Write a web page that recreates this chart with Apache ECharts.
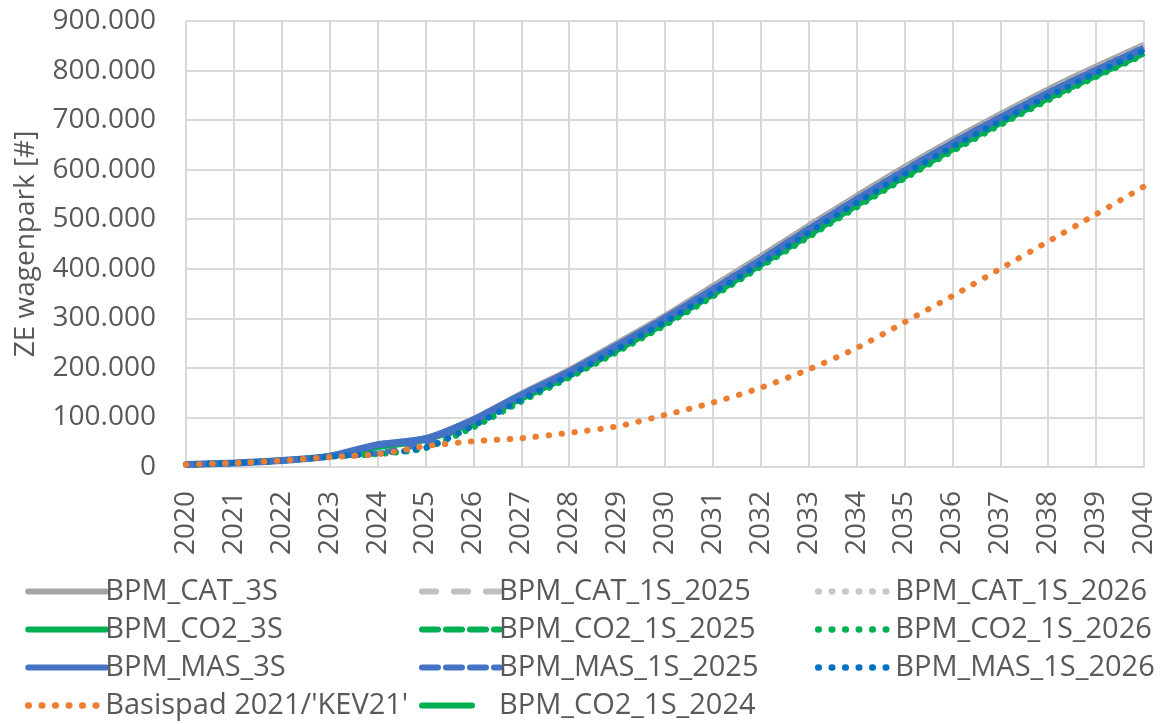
<!DOCTYPE html>
<html>
<head>
<meta charset="utf-8">
<script src="https://cdn.jsdelivr.net/npm/echarts@6/dist/echarts.min.js"></script>
<style>
html,body{margin:0;padding:0;background:#fff;}
#chart{width:1173px;height:724px;}
</style>
</head>
<body>
<div id="chart"></div>
<script>
const years = ['2020','2021','2022','2023','2024','2025','2026','2027','2028','2029','2030','2031','2032','2033','2034','2035','2036','2037','2038','2039','2040'];
const yTicks = [0,100000,200000,300000,400000,500000,600000,700000,800000,900000];

const cat3S      = [5000,8000,13000,22000,45000,58000,97000,148000,196000,250000,305000,365000,425000,487000,547000,605000,660000,712000,762000,808000,852000];
const co23S      = [5000,8000,13000,22000,44000,56000,92000,140000,186000,238000,292000,350000,410000,470000,530000,588000,643000,696000,746000,792000,836000];
const mas3S      = [5000,8000,13000,22000,45000,57000,95000,145000,192000,245000,300000,358000,418000,480000,540000,598000,653000,705000,755000,801000,845000];
const cat1S2025  = [5000,8000,13000,21000,28000,50000,93000,145000,193000,247000,302000,362000,422000,484000,544000,602000,657000,709000,759000,805000,850000];
const co21S2025  = [5000,8000,13000,21000,28000,48000,88000,137000,183000,235000,289000,347000,407000,467000,527000,585000,640000,693000,743000,789000,834000];
const mas1S2025  = [5000,8000,13000,21000,28000,49000,91000,142000,189000,242000,297000,355000,415000,477000,537000,595000,650000,702000,752000,798000,843000];
const cat1S2026  = [5000,8000,13000,21000,27000,40000,85000,140000,190000,244000,300000,360000,420000,482000,542000,600000,655000,707000,757000,803000,848000];
const co21S2026  = [5000,8000,13000,21000,26000,38000,80000,132000,180000,232000,286000,344000,404000,464000,524000,582000,637000,690000,740000,787000,832000];
const mas1S2026  = [5000,8000,13000,21000,27000,39000,83000,136000,185000,238000,293000,351000,411000,473000,533000,591000,646000,698000,748000,795000,840000];
const co21S2024  = [5000,8000,13000,22000,40000,55000,90000,138000,184000,236000,290000,348000,408000,468000,528000,586000,641000,694000,744000,790000,835000];
const kev21      = [5000,8000,13000,20000,26000,42000,52000,58000,69000,82000,105000,130000,160000,197000,240000,292000,345000,400000,455000,510000,566000];

const FONT = 'Open Sans';
const TXT = '#595959';

function fmt(v){
  if (v === 0) return '0';
  const s = String(Math.round(v));
  return s.replace(/\B(?=(\d{3})+(?!\d))/g, '.');
}

const styles = {};
function mk(name, data, color, type, width, z, dotted){
  styles[name] = {color: color, type: type, dotted: !!dotted};
  return {
    name: name, type: 'line', data: data, showSymbol: false, symbol: 'none',
    smooth: 0.25, z: z,
    lineStyle: {color: color, width: width, type: type, cap: dotted ? 'round' : 'butt'},
    itemStyle: {color: color},
    emphasis: {disabled: true}
  };
}

const series = [
  mk('BPM_CAT_3S', cat3S, '#A5A5A5', 'solid', 6, 2),
  mk('BPM_CAT_1S_2025', cat1S2025, '#C0C0C0', [10,12], 5, 2),
  mk('BPM_CAT_1S_2026', cat1S2026, '#C8C8C8', [0.5,10], 6, 2, true),
  mk('BPM_CO2_3S', co23S, '#00B050', 'solid', 6, 3),
  mk('BPM_CO2_1S_2025', co21S2025, '#00B050', [12,8], 5, 3),
  mk('BPM_CO2_1S_2024', co21S2024, '#00B050', 'solid', 6, 3),
  mk('BPM_CO2_1S_2026', co21S2026, '#00B050', [0.5,10], 6, 3, true),
  mk('BPM_MAS_1S_2025', mas1S2025, '#4472C4', [12,8], 5, 4),
  mk('BPM_MAS_3S', mas3S, '#4472C4', 'solid', 7, 4),
  mk('Basispad 2021/\'KEV21\'', kev21, '#ED7D31', [0.5,12.5], 6, 6, true),
  mk('BPM_MAS_1S_2026', mas1S2026, '#0070C0', [0.5,11], 6, 5, true)
];

function legendItem(name){
  const s = styles[name];
  let type = s.type;
  if (Array.isArray(type)) {
    type = s.dotted ? [0.5, 13] : (name.indexOf('CAT') >= 0 ? [14, 18] : [16, 8]);
  }
  if (name === 'BPM_CO2_1S_2024') type = [50, 200];
  return {
    name: name,
    itemStyle: {color: 'rgba(0,0,0,0)', borderWidth: 0, opacity: 0},
    lineStyle: {color: s.color, width: s.dotted ? 6.5 : 6, type: type, cap: 'round'}
  };
}

const legendCommon = {
  orient: 'vertical', itemWidth: 78, itemHeight: 14, itemGap: 9, height: 170,
  itemStyle: {color: 'rgba(0,0,0,0)', borderWidth: 0, opacity: 0},
  textStyle: {fontFamily: FONT, fontSize: 29, color: TXT, padding: [0,0,0,-6]},
  selectedMode: false
};

const chart = echarts.init(document.getElementById('chart'), null, {renderer: 'canvas'});
chart.setOption({
  animation: false,
  backgroundColor: '#fff',
  grid: {left: 186, right: 29, top: 21, bottom: 257, containLabel: false},
  legend: [
    Object.assign({}, legendCommon, {left: 20, top: 572, data: ['BPM_CAT_3S','BPM_CO2_3S','BPM_MAS_3S','Basispad 2021/\'KEV21\''].map(legendItem)}),
    Object.assign({}, legendCommon, {left: 414, top: 572, data: ['BPM_CAT_1S_2025','BPM_CO2_1S_2025','BPM_MAS_1S_2025','BPM_CO2_1S_2024'].map(legendItem)}),
    Object.assign({}, legendCommon, {left: 810, top: 572, data: ['BPM_CAT_1S_2026','BPM_CO2_1S_2026','BPM_MAS_1S_2026'].map(legendItem)})
  ],
  xAxis: {
    type: 'category', data: years, boundaryGap: false,
    axisLine: {show: true, lineStyle: {color: '#D9D9D9', width: 2}},
    axisTick: {show: false},
    axisLabel: {rotate: 90, fontFamily: FONT, fontSize: 28, color: TXT, margin: 24, interval: 0},
    splitLine: {show: true, lineStyle: {color: '#D9D9D9', width: 2}}
  },
  yAxis: {
    type: 'value', min: 0, max: 900000, interval: 100000,
    name: 'ZE wagenpark [#]', nameLocation: 'middle', nameGap: 146, nameRotate: 90,
    nameTextStyle: {fontFamily: FONT, fontSize: 28, color: TXT},
    axisLine: {show: false}, axisTick: {show: false},
    axisLabel: {fontFamily: FONT, fontSize: 28, color: TXT, margin: 30, formatter: fmt},
    splitLine: {show: true, lineStyle: {color: '#D9D9D9', width: 2}}
  },
  series: series
});
</script>
</body>
</html>
